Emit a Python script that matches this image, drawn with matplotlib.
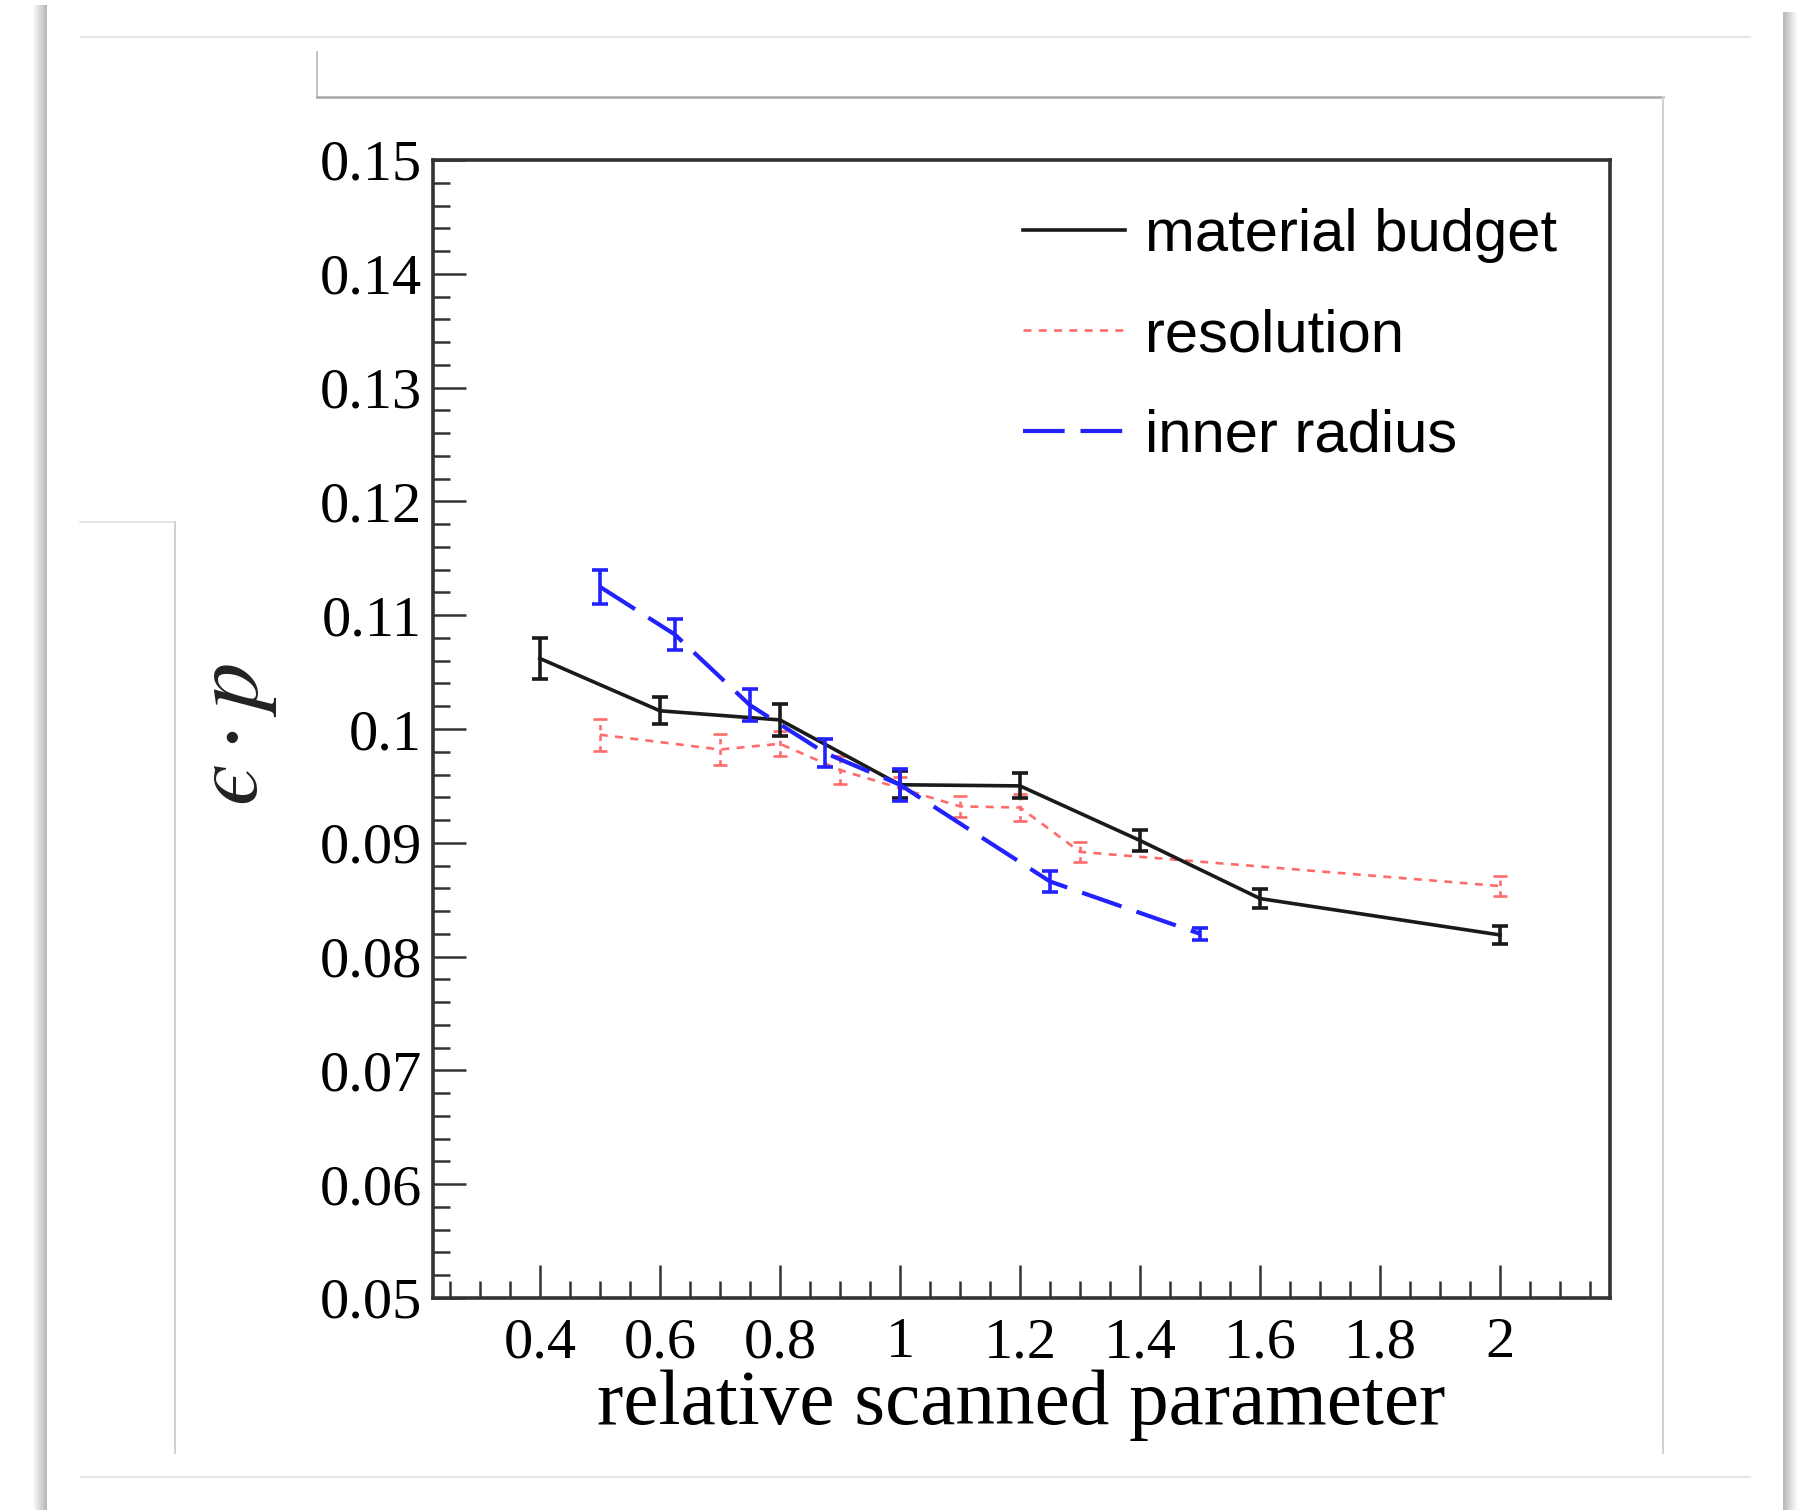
import matplotlib
matplotlib.use("Agg")
import matplotlib.pyplot as plt
from matplotlib.lines import Line2D
from matplotlib.patches import Rectangle
from matplotlib.ticker import MultipleLocator

# material budget scan
mb_x = [0.4, 0.6, 0.8, 1.0, 1.2, 1.4, 1.6, 2.0]
mb_y = [0.1062, 0.1016, 0.1008, 0.0951, 0.0950, 0.0902, 0.0851, 0.0819]
mb_err = [0.0018, 0.0012, 0.0014, 0.0012, 0.0011, 0.0009, 0.0008, 0.0008]

# resolution scan
res_x = [0.5, 0.7, 0.8, 0.9, 1.0, 1.1, 1.2, 1.3, 2.0]
res_y = [0.0995, 0.0982, 0.0987, 0.0964, 0.0948, 0.0932, 0.0931, 0.0892, 0.0862]
res_err = [0.0014, 0.0014, 0.0011, 0.0012, 0.0010, 0.0009, 0.0012, 0.0009, 0.0009]

# inner radius scan
ir_x = [0.5, 0.625, 0.75, 0.875, 1.0, 1.25, 1.5]
ir_y = [0.1125, 0.1083, 0.1021, 0.0979, 0.0951, 0.0866, 0.0820]
ir_err = [0.0015, 0.0014, 0.0014, 0.0012, 0.0014, 0.0009, 0.0005]

labels = ["material budget", "resolution", "inner radius"]
x_ticks = [0.4, 0.6, 0.8, 1.0, 1.2, 1.4, 1.6, 1.8, 2.0]
x_ticklabels = ["0.4", "0.6", "0.8", "1", "1.2", "1.4", "1.6", "1.8", "2"]
y_ticks = [0.05, 0.06, 0.07, 0.08, 0.09, 0.10, 0.11, 0.12, 0.13, 0.14, 0.15]
y_ticklabels = ["0.05", "0.06", "0.07", "0.08", "0.09", "0.1", "0.11",
                "0.12", "0.13", "0.14", "0.15"]

W, H = 1808, 1510
plt.rcParams["mathtext.fontset"] = "stix"
fig = plt.figure(figsize=(W / 100, H / 100), dpi=100)
fig.patch.set_facecolor("white")


def fx(px):
    return px / W


def fy(py):
    return 1 - py / H


# --- slide-like decoration around the plot (screenshot frame) ---
for i in range(14):
    g = 1 - (0.28 * (i + 1) / 14)
    fig.add_artist(Rectangle((fx(33 + i), 0), fx(1), fy(5), transform=fig.transFigure,
                             facecolor=(g, g, g), edgecolor="none", zorder=0))
    fig.add_artist(Rectangle((fx(1796 - i), 0), fx(1), fy(12), transform=fig.transFigure,
                             facecolor=(g, g, g), edgecolor="none", zorder=0))
fig.add_artist(Rectangle((fx(47), 0), fx(1783 - 47), fy(5), transform=fig.transFigure,
                         facecolor="white", edgecolor="none", zorder=0))
deco = [
    ((81, 1750), (37, 37), "#e2e2e2", 1.2),
    ((81, 1750), (1477, 1477), "#e2e2e2", 1.2),
    ((317, 317), (52, 97), "#b8b8b8", 1.2),
    ((317, 1663), (97, 97), "#a8a8a8", 1.8),
    ((1663, 1663), (97, 1453), "#d0d0d0", 1.4),
    ((80, 175), (522, 522), "#e0e0e0", 1.2),
    ((175, 175), (522, 1453), "#d0d0d0", 1.4),
]
for xs, ys, c, lw in deco:
    fig.add_artist(Line2D([fx(xs[0]), fx(xs[1])], [fy(ys[0]), fy(ys[1])],
                          transform=fig.transFigure, color=c, lw=lw, zorder=1))

# --- main axes ---
ax = fig.add_axes([fx(433), fy(1298), fx(1610 - 433), fy(160) - fy(1298)])

black = "#1a1a1a"
red = "#ff6a6a"
blue = "#2222ff"

eb1 = ax.errorbar(mb_x, mb_y, yerr=mb_err, color=black, lw=2.6, elinewidth=2.6,
                  capsize=6, capthick=2.6, zorder=3)
eb2 = ax.errorbar(res_x, res_y, yerr=res_err, color=red, lw=1.9,
                  linestyle=(0, (3.0, 2.8)), elinewidth=1.9, capsize=5, capthick=1.9,
                  zorder=2)
eb2[2][0].set_linestyle((0, (2.0, 2.0)))
eb3 = ax.errorbar(ir_x, ir_y, yerr=ir_err, color=blue, lw=3.0,
                  linestyle=(0, (10, 3.8)), elinewidth=2.6, capsize=6, capthick=2.6,
                  zorder=4)

ax.set_xlim(0.222, 2.183)
ax.set_ylim(0.05, 0.15)
ax.set_xticks(x_ticks)
ax.set_xticklabels(x_ticklabels)
ax.set_yticks(y_ticks)
ax.set_yticklabels(y_ticklabels)
ax.xaxis.set_minor_locator(MultipleLocator(0.05))
ax.yaxis.set_minor_locator(MultipleLocator(0.002))
ax.tick_params(which="both", direction="in", top=False, right=False,
               color="#333333", width=1.8)
ax.tick_params(which="major", length=24)
ax.tick_params(which="minor", length=12)
ax.tick_params(axis="x", pad=14)
ax.tick_params(axis="y", pad=8)
for lab in ax.get_xticklabels() + ax.get_yticklabels():
    lab.set_fontfamily("Liberation Serif")
    lab.set_fontsize(42)
for sp in ax.spines.values():
    sp.set_linewidth(2.6)
    sp.set_color("#333333")

ax.set_xlabel("relative scanned parameter", family="Liberation Serif", fontsize=57,
              labelpad=0)
# lunate epsilon as in the original
fig.text(fx(233), fy(735), "$\u03f5 \\cdot p$", rotation=90, ha="center",
         va="center", fontsize=68, color="#222222")

leg = ax.legend([eb1[0], eb2[0], eb3[0]], labels, loc="upper left",
                bbox_to_anchor=(fx(1023), fy(208)), bbox_transform=fig.transFigure,
                frameon=False, borderpad=0, borderaxespad=0, handlelength=1.7,
                handletextpad=0.35, labelspacing=0.76,
                prop={"family": "Liberation Sans", "size": 43})

fig.savefig("out.png", dpi=100)
